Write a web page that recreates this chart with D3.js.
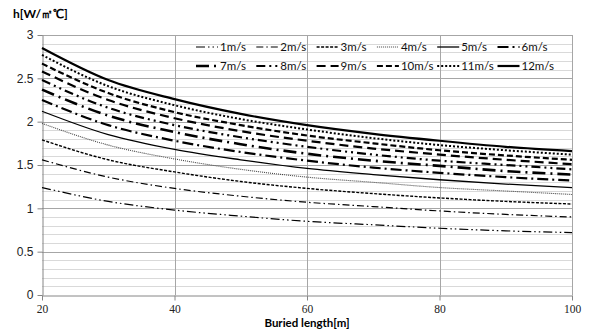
<!DOCTYPE html>
<html>
<head>
<meta charset="utf-8">
<script src="https://cdn.jsdelivr.net/npm/d3@7"></script>
<style>
body { margin: 0; background: #fff; }
svg { display: block; font-family: Lato, "Liberation Sans", sans-serif; }
</style>
</head>
<body>
<script>
const width = 589, height = 329;
const margin = {top: 35, right: 17, bottom: 34, left: 42};

const lengths = [20, 30, 40, 50, 60, 70, 80, 90, 100];
const speeds = ['1m/s', '2m/s', '3m/s', '4m/s', '5m/s', '6m/s', '7m/s', '8m/s', '9m/s', '10m/s', '11m/s', '12m/s'];
const h1  = [1.24, 1.08, 0.98, 0.91, 0.85, 0.81, 0.77, 0.74, 0.72];
const h2  = [1.56, 1.36, 1.23, 1.14, 1.07, 1.02, 0.97, 0.93, 0.90];
const h3  = [1.79, 1.56, 1.42, 1.31, 1.23, 1.17, 1.12, 1.08, 1.05];
const h4  = [1.98, 1.73, 1.57, 1.45, 1.36, 1.30, 1.24, 1.20, 1.16];
const h5  = [2.12, 1.85, 1.68, 1.56, 1.46, 1.39, 1.33, 1.28, 1.24];
const h6  = [2.25, 1.96, 1.78, 1.65, 1.55, 1.47, 1.41, 1.36, 1.32];
const h7  = [2.37, 2.07, 1.88, 1.74, 1.63, 1.55, 1.49, 1.43, 1.39];
const h8  = [2.48, 2.16, 1.96, 1.82, 1.71, 1.62, 1.55, 1.50, 1.45];
const h9  = [2.58, 2.25, 2.04, 1.89, 1.78, 1.69, 1.62, 1.56, 1.51];
const h10 = [2.67, 2.33, 2.11, 1.96, 1.84, 1.75, 1.67, 1.61, 1.56];
const h11 = [2.77, 2.41, 2.19, 2.03, 1.91, 1.81, 1.73, 1.67, 1.62];
const h12 = [2.85, 2.48, 2.26, 2.09, 1.96, 1.86, 1.78, 1.71, 1.66];
const values = [h1, h2, h3, h4, h5, h6, h7, h8, h9, h10, h11, h12];
const xTicks = [20, 40, 60, 80, 100];
const yTicks = [0, 0.5, 1, 1.5, 2, 2.5, 3];

// line styles per series (Excel-like dash types)
const styles = [
    {w: 1.2, dash: '9,3,1.5,3,1.5,3'},
    {w: 1.2, dash: '7,3,1.5,3'},
    {w: 1.4, dash: '3,1.5'},
    {w: 1.1, dash: '1,1', color: '#444'},
    {w: 1.3, dash: null},
    {w: 2.2, dash: '11,4,2,4'},
    {w: 2.6, dash: '13,5,2,5'},
    {w: 2.2, dash: '9,4,2,4,2,4'},
    {w: 2.2, dash: '9,5'},
    {w: 2.2, dash: '6,3'},
    {w: 2, dash: '2,2'},
    {w: 2.2, dash: null}
];

const x = d3.scaleLinear().domain([20, 100]).range([margin.left, width - margin.right]);
const y = d3.scaleLinear().domain([0, 3]).range([height - margin.bottom, margin.top]);

const svg = d3.select('body').append('svg').attr('width', width).attr('height', height);

// minor horizontal grid
svg.append('g').selectAll('line')
    .data(d3.range(1, 30).map(i => i / 10).filter(v => Math.round(v * 10) % 5 !== 0))
    .join('line')
    .attr('x1', x(20)).attr('x2', x(100))
    .attr('y1', d => Math.round(y(d)) + 0.5).attr('y2', d => Math.round(y(d)) + 0.5)
    .attr('stroke', '#d9d9d9');

// major horizontal grid
svg.append('g').selectAll('line')
    .data(yTicks.slice(1))
    .join('line')
    .attr('x1', x(20)).attr('x2', x(100))
    .attr('y1', d => Math.round(y(d)) + 0.5).attr('y2', d => Math.round(y(d)) + 0.5)
    .attr('stroke', '#a6a6a6');

// vertical grid
svg.append('g').selectAll('line')
    .data(xTicks.slice(1))
    .join('line')
    .attr('x1', d => Math.round(x(d)) + 0.5).attr('x2', d => Math.round(x(d)) + 0.5)
    .attr('y1', y(0)).attr('y2', y(3))
    .attr('stroke', '#a6a6a6');

// axes
const xAxis = svg.append('g')
    .attr('transform', `translate(0,${Math.round(y(0)) + 0.5})`)
    .call(d3.axisBottom(x).tickValues(xTicks).tickSize(5).tickSizeOuter(0));
xAxis.select('.domain').attr('stroke', '#868686');
xAxis.selectAll('.tick line').attr('stroke', '#868686');
xAxis.selectAll('text')
    .attr('font-family', '"Liberation Serif", "DejaVu Serif", serif')
    .attr('font-size', 11.5).attr('fill', '#222').attr('y', 7).attr('dy', '0.9em');

const yAxis = svg.append('g')
    .attr('transform', `translate(${Math.round(x(20)) + 0.5},0)`)
    .call(d3.axisLeft(y).tickValues(yTicks).tickFormat(d3.format('')).tickSize(5).tickSizeOuter(0));
yAxis.select('.domain').attr('stroke', '#868686');
yAxis.selectAll('.tick line').attr('stroke', '#868686');
yAxis.selectAll('text').attr('font-size', 12).attr('fill', '#222').attr('x', -9);

// series
const line = d3.line().x((d, i) => x(lengths[i])).y(d => y(d)).curve(d3.curveMonotoneX);
svg.append('g').selectAll('path')
    .data(values)
    .join('path')
    .attr('d', line)
    .attr('fill', 'none')
    .attr('stroke', (d, i) => styles[i].color || '#000')
    .attr('stroke-width', (d, i) => styles[i].w)
    .attr('stroke-dasharray', (d, i) => styles[i].dash);

// legend
const legend = svg.append('g').attr('transform', 'translate(196,47)');
const item = legend.selectAll('g')
    .data(speeds)
    .join('g')
    .attr('transform', (d, i) => `translate(${(i % 6) * 60.3},${Math.floor(i / 6) * 19})`);
item.append('line')
    .attr('x1', 0).attr('x2', 22).attr('y1', 0).attr('y2', 0)
    .attr('stroke', (d, i) => styles[i].color || '#000')
    .attr('stroke-width', (d, i) => styles[i].w)
    .attr('stroke-dasharray', (d, i) => styles[i].dash);
item.append('text')
    .attr('x', 24).attr('y', 4)
    .attr('font-size', 11.5).attr('fill', '#111')
    .text(d => d);

// titles
svg.append('text')
    .attr('x', 13).attr('y', 18)
    .attr('font-size', 12).attr('font-weight', 'bold')
    .text('h[W/㎡℃]');
svg.append('text')
    .attr('x', 307).attr('y', 327)
    .attr('text-anchor', 'middle')
    .attr('font-size', 11.5).attr('font-weight', 'bold')
    .text('Buried length[m]');
</script>
</body>
</html>
